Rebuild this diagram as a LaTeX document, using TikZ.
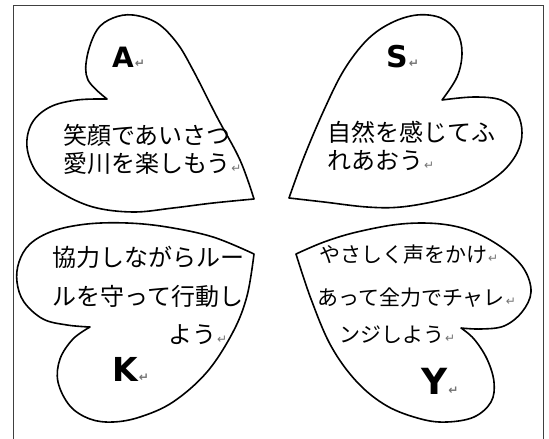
\documentclass[tikz,border=0pt]{standalone}
\usepackage{fontspec}
\newfontfamily\jpfont{Noto Sans CJK JP}
\newfontfamily\letterfont{DejaVu Sans}
\newfontfamily\markfont{DejaVu Sans}
\newcommand{\retmark}{\hspace{1pt}{\markfont\fontsize{12}{12}\selectfont\color{black!55}↵}}

\begin{document}
\begin{tikzpicture}[x=1pt,y=-1pt,
	heart/.style={draw=black,line width=1.6pt,line join=round},
	jp/.style={font=\jpfont\fontsize{24}{28}\selectfont,inner sep=0pt,anchor=base west},
	jpsmall/.style={jp,font=\jpfont\fontsize{21}{25}\selectfont},
	letter/.style={font=\letterfont\bfseries,inner sep=0pt,anchor=base west}]

	\useasboundingbox (0,0) rectangle (549,439);
	\draw[black!75,line width=1pt] (13,439) -- (13,5) -- (543,5) -- (543,439);

	% hearts
	\draw[heart] plot[smooth,tension=.6] coordinates {(107,99) (88,80) (87,57) (97,30) (113,18) (133,15) (157,23) (177,43) (193,70) (217,117) (240,160) (254,199)}
		-- plot[smooth,tension=.6] coordinates {(254,199) (213,203) (173,208) (133,212) (93,207) (60,192) (37,173) (27,147) (32,123) (50,107) (77,100) (107,99)} -- cycle;
	\draw[heart] plot[smooth,tension=.6] coordinates {(442,100) (457,77) (462,53) (457,32) (441,18) (417,15) (391,23) (367,40) (344,70) (324,110) (304,157) (289,198)}
		-- plot[smooth,tension=.6] coordinates {(289,198) (324,202) (367,207) (401,207) (441,200) (474,190) (501,173) (517,153) (522,133) (517,113) (501,100) (474,97) (442,100)} -- cycle;
	\draw[heart] plot[smooth,tension=.6] coordinates {(254,254) (213,237) (167,227) (127,223) (87,224) (53,231) (30,244) (19,262) (17,282) (24,302) (43,319) (67,325) (90,327)}
		-- plot[smooth,tension=.6] coordinates {(90,327) (73,339) (60,359) (58,382) (70,406) (90,419) (113,422) (140,417) (173,402) (207,372) (233,332) (247,296) (254,254)} -- cycle;
	\draw[heart] plot[smooth,tension=.6] coordinates {(296,254) (324,242) (357,232) (401,224) (441,224) (474,232) (504,249) (524,269) (531,292) (522,312) (504,326) (481,329) (461,328)}
		-- plot[smooth,tension=.6] coordinates {(461,328) (474,339) (487,359) (494,382) (491,402) (474,417) (447,422) (421,419) (387,406) (357,382) (331,346) (311,299) (296,254)} -- cycle;

	% A
	\node[letter,font=\letterfont\bfseries\fontsize{28}{28}\selectfont] (letA) at (112,67) {A\retmark};
	\node[jp] (a1) at (63,144) {笑顔であいさつ};
	\node[jp] (a2) at (63,172) {愛川を楽しもう\retmark};

	% S
	\node[letter,font=\letterfont\bfseries\fontsize{30}{30}\selectfont] (letS) at (386,67) {S\retmark};
	\node[jp] (s1) at (327,141) {自然を感じてふ};
	\node[jp] (s2) at (327,169) {れあおう\retmark};

	% K
	\node[jp] (k1) at (52,266) {協力しながらルー};
	\node[jp] (k2) at (52,305) {ルを守って行動し};
	\node[jp] (k3) at (168,343) {よう\retmark};
	\node[letter,font=\letterfont\bfseries\fontsize{33}{33}\selectfont] (letK) at (112,381) {K\retmark};

	% Y
	\node[jpsmall] (y1) at (319,262) {やさしく声をかけ\retmark};
	\node[jpsmall] (y2) at (317,305) {あって全力でチャレ\retmark};
	\node[jpsmall] (y3) at (339,342) {ンジしよう\retmark};
	\node[letter,font=\letterfont\bfseries\fontsize{36}{36}\selectfont] (letY) at (421,394) {Y\retmark};
\end{tikzpicture}
\end{document}
